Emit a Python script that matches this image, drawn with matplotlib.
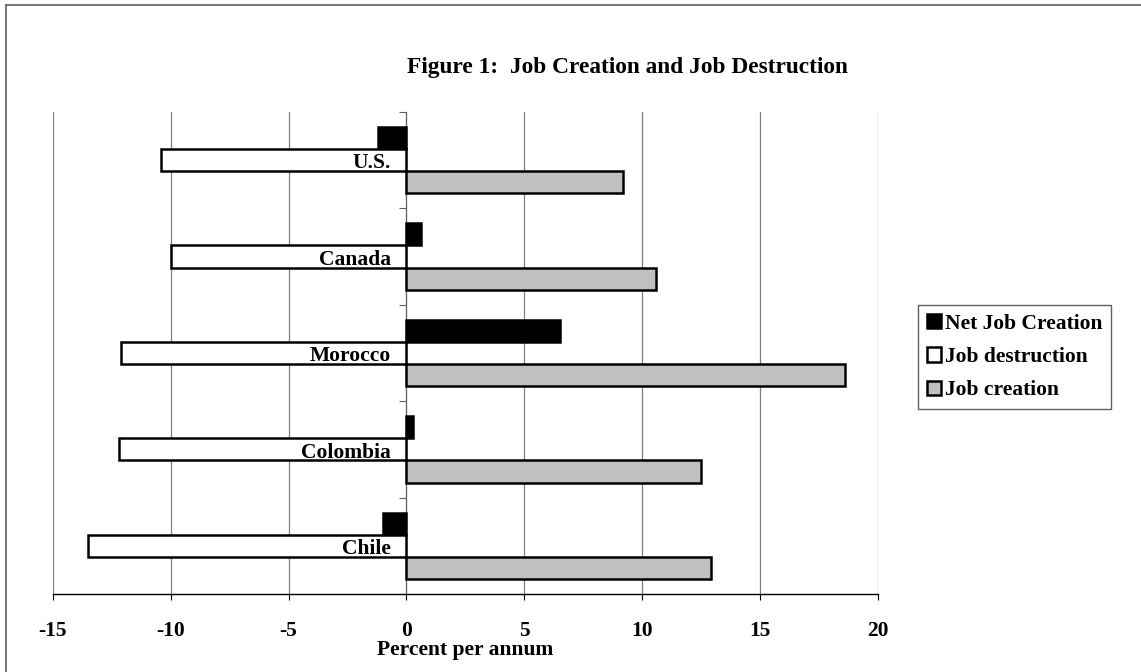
import matplotlib.pyplot as plt
from matplotlib.lines import Line2D

plt.rcParams['font.family'] = 'Liberation Serif'
plt.rcParams['font.weight'] = 'bold'
plt.rcParams['axes.labelweight'] = 'bold'
plt.rcParams['font.size'] = 15.5

countries = ['U.S.', 'Canada', 'Morocco', 'Colombia', 'Chile']
net_creation = [-1.2, 0.6, 6.5, 0.3, -1.0]
job_destruction = [-10.4, -10.0, -12.1, -12.2, -13.5]
job_creation = [9.2, 10.6, 18.6, 12.5, 12.9]
x_ticks = [-15, -10, -5, 0, 5, 10, 15, 20]

fig = plt.figure(figsize=(11.41, 6.72), dpi=100)
ax = fig.add_axes([0.0462, 0.1161, 0.7233, 0.7173])

pos = list(range(len(countries)))
h = 0.23
ax.barh([p - h for p in pos], net_creation, height=h, color='black',
        edgecolor='black', linewidth=1.8, label='Net Job Creation', zorder=3)
ax.barh(pos, job_destruction, height=h, color='white',
        edgecolor='black', linewidth=1.8, label='Job destruction', zorder=3)
ax.barh([p + h for p in pos], job_creation, height=h, color='#c0c0c0',
        edgecolor='black', linewidth=1.8, label='Job creation', zorder=3)

# country names sit inside the destruction bar, just left of zero
for p, name in zip(pos, countries):
    ax.annotate(name, xy=(0, p + 0.085), xytext=(-11, 0),
                textcoords='offset points', ha='right', va='baseline',
                fontsize=15.5, zorder=4)

ax.set_xlim(-15, 20)
ax.set_ylim(len(countries) - 0.5, -0.5)
ax.set_xticks(x_ticks)
ax.set_xticklabels([str(t) for t in x_ticks])
ax.tick_params(axis='x', direction='out', length=4.5, width=0.8, pad=15,
               color='black')

# category boundaries as ticks on the zero axis
ax.set_yticks([p - 0.5 for p in range(len(countries) + 1)])
ax.set_yticklabels([])
ax.tick_params(axis='y', direction='out', length=5, width=0.8, color='#606060')

for t in x_ticks:
    ax.axvline(t, color='#808080', linewidth=0.9, zorder=1)

ax.spines['top'].set_visible(False)
ax.spines['right'].set_visible(False)
ax.spines['left'].set_position(('data', 0))
ax.spines['left'].set_color('#606060')
ax.spines['left'].set_zorder(2)
ax.spines['bottom'].set_color('black')
ax.spines['bottom'].set_linewidth(1.0)

ax.set_xlabel('Percent per annum', fontsize=15.5, fontweight='bold',
              labelpad=-1)

fig.text(0.55, 1 - 67 / 672, 'Figure 1:  Job Creation and Job Destruction',
         ha='center', va='center', fontsize=16.8, fontweight='bold')

leg = ax.legend(loc='upper left', bbox_to_anchor=(918 / 1141, 1 - 305 / 672),
                bbox_transform=fig.transFigure, fancybox=False, framealpha=1,
                edgecolor='#606060', borderpad=0.4, labelspacing=0.62,
                handlelength=0.65, handleheight=0.65, handletextpad=0.2,
                borderaxespad=0, fontsize=15.5)
leg.get_frame().set_linewidth(1.0)

# chart area border (left and top edges)
fig.add_artist(Line2D([6 / 1141, 6 / 1141], [0, 1 - 5 / 672],
                      transform=fig.transFigure, color='#606060', linewidth=1.2))
fig.add_artist(Line2D([6 / 1141, 1], [1 - 5 / 672, 1 - 5 / 672],
                      transform=fig.transFigure, color='#606060', linewidth=1.2))

fig.savefig('out.png', dpi=100)
